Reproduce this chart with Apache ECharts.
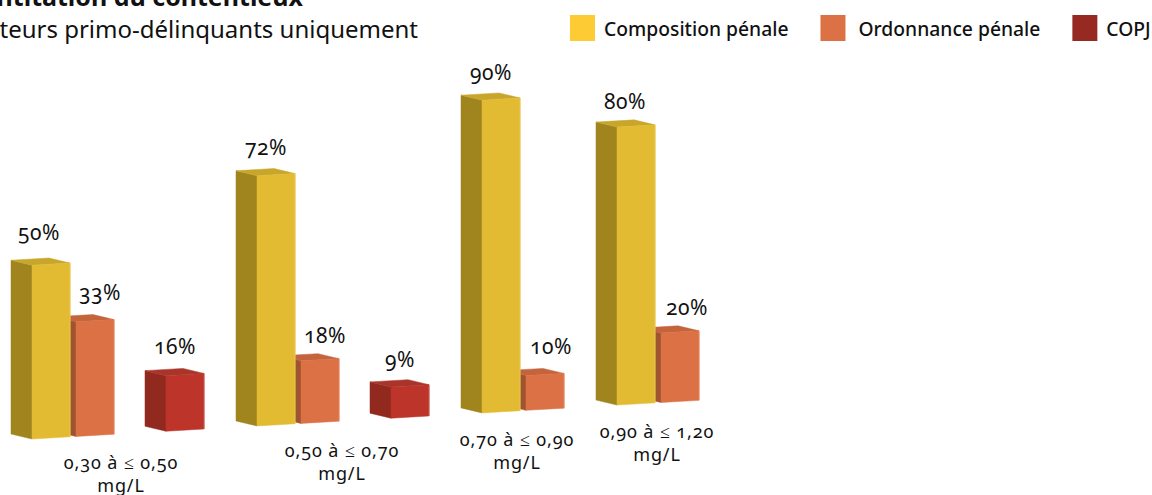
<!DOCTYPE html>
<html><head><meta charset="utf-8">
<style>html,body{margin:0;padding:0;background:#fff;overflow:hidden}#main{width:1152px;height:495px}#main text{font-feature-settings:"onum" 1 !important}#main text[style*="18px"]{letter-spacing:.9px}#main text[style*="21px"]{letter-spacing:.6px}</style>
<script src="https://cdn.jsdelivr.net/npm/echarts@6/dist/echarts.min.js"></script>
</head><body><div id="main"></div>
<script>
const categories = ['0,30 à ≤ 0,50\nmg/L', '0,50 à ≤ 0,70\nmg/L', '0,70 à ≤ 0,90\nmg/L', '0,90 à ≤ 1,20\nmg/L'];
const composition = [50, 72, 90, 80];
const ordonnance = [33, 18, 10, 20];
const copj = [16, 9, null, null];
const seriesNames = ['Composition pénale', 'Ordonnance pénale', 'COPJ'];
const allSeries = [composition, ordonnance, copj];

const FONT = '"Noto Sans"';
const SLOTS = [0, 44, 134], BAR_W = 38, DEPTH = [-21, -5], TILT = 0.058, X0 = 32, GROUP_TAIL = 91;
const LABEL_DX = [-12, 5, -12], LABEL_DY = -29;
// hand placement of the labels, by series then group: [dx, dy]
const LABEL_NUDGE = [
  [[0, -4], [2, 0], [2, 1], [1, 3]],
  [[0, -1], [0, 3], [1, -1], [2, 3]],
  [[2, -1], [2, 1], [0, 0], [0, 0]]
];
const CAT_NUDGE = [3, -1, -6, -1];
const legendColors = ['#FDCB33', '#DC7145', '#962A22'];
const faces = [
  {front: '#E3BB33', side: '#A0851F', top: '#C8A62C', edge: '#E9C650'},
  {front: '#DC7145', side: '#9E5430', top: '#C4643C', edge: '#E38560'},
  {front: '#BC342A', side: '#92291F', top: '#A9352A', edge: '#C9564C'}
];
// each group starts after the bars present in the previous one
const groupStart = [];
categories.forEach((_, g) => {
  if (g === 0) { groupStart.push(X0); return; }
  const present = allSeries.map((s, i) => s[g - 1] != null ? i : -1).filter(i => i >= 0);
  groupStart.push(groupStart[g - 1] + SLOTS[present[present.length - 1]] + GROUP_TAIL);
});
const tilt = px => -TILT * (px - X0);

function barRender(si) {
  return function (params, api) {
    const v = api.value(1);
    if (v == null || isNaN(v)) return;
    const g = params.dataIndex;
    const x = groupStart[g] + SLOTS[si];
    const base = api.coord([x, 0]), head = api.coord([x, v]);
    const px = base[0], py = base[1] + tilt(base[0]), ty = head[1] + tilt(base[0]);
    const rise = -TILT * BAR_W, dx = DEPTH[0], dy = DEPTH[1], f = faces[si];
    const nudge = LABEL_NUDGE[si][g];
    const poly = (pts, fill, stroke) => ({type: 'polygon', shape: {points: pts},
      style: {fill, stroke: stroke || fill, lineWidth: stroke ? 1 : 0.5}});
    return {type: 'group', children: [
      poly([[px, ty], [px + dx, ty + dy], [px + dx, py + dy], [px, py]], f.side),
      poly([[px, ty], [px + dx, ty + dy], [px + dx + BAR_W, ty + dy + rise], [px + BAR_W, ty + rise]], f.top),
      poly([[px, ty], [px + BAR_W, ty + rise], [px + BAR_W, py + rise], [px, py]], f.front),
      {type: 'line', shape: {x1: px + BAR_W, y1: ty + rise, x2: px + BAR_W, y2: py + rise}, style: {stroke: f.edge, lineWidth: 1}},
      {type: 'text', style: {text: v + '%', x: px + BAR_W / 2 + LABEL_DX[si] + nudge[0], y: ty + LABEL_DY + nudge[1],
        align: 'center', verticalAlign: 'middle', fill: '#111', font: '21px ' + FONT}}
    ]};
  };
}
function catRender(params, api) {
  const g = params.dataIndex;
  const present = allSeries.map((s, i) => s[g] != null ? i : -1).filter(i => i >= 0);
  const mid = groupStart[g] + (SLOTS[present[present.length - 1]] + BAR_W) / 2 + CAT_NUDGE[g];
  const p = api.coord([mid, 0]);
  return {type: 'text', style: {text: categories[g], x: p[0], y: p[1] + tilt(p[0]) + 17,
    align: 'center', verticalAlign: 'top', fill: '#111', font: '18px ' + FONT, lineHeight: 23}};
}

const chart = echarts.init(document.getElementById('main'), null, {renderer: 'svg'});
chart.setOption({
  animation: false,
  backgroundColor: '#fff',
  title: [
    {text: 'ntitation du contentieux', right: 849, top: -17, padding: 0,
     textStyle: {fontFamily: FONT, fontWeight: 'bold', fontSize: 25, color: '#111'}},
    {text: 'teurs primo-délinquants uniquement', right: 734, top: 16, padding: 0,
     textStyle: {fontFamily: FONT, fontWeight: 'normal', fontSize: 24, color: '#111'}}
  ],
  legend: {
    data: seriesNames.map((name, i) => ({name, textStyle: {padding: i === 1 ? [0, 0, 0, 8] : [0, 0, 0, 4]}})),
    left: 570, top: 15, padding: 0, itemWidth: 25, itemHeight: 26, itemGap: 32,
    icon: 'rect', selectedMode: false,
    textStyle: {fontFamily: FONT, fontWeight: 500, fontSize: 19.3, color: '#111'}
  },
  grid: {left: 0, right: 0, top: 91.5, bottom: 56},
  xAxis: {type: 'value', min: 0, max: 1152, show: false},
  yAxis: {type: 'value', min: 0, max: 100, show: false},
  series: allSeries.map((vals, si) => ({
    type: 'custom', name: seriesNames[si], coordinateSystem: 'cartesian2d', clip: false,
    z: 3 - si, itemStyle: {color: legendColors[si]}, renderItem: barRender(si),
    encode: {x: 0, y: 1},
    data: vals.map((v, g) => [g, v])
  })).concat([{
    type: 'custom', name: 'categories', coordinateSystem: 'cartesian2d', clip: false, silent: true,
    renderItem: catRender, data: categories.map((c, g) => [g, 0]), encode: {x: 0, y: 1}
  }])
});
</script></body></html>
